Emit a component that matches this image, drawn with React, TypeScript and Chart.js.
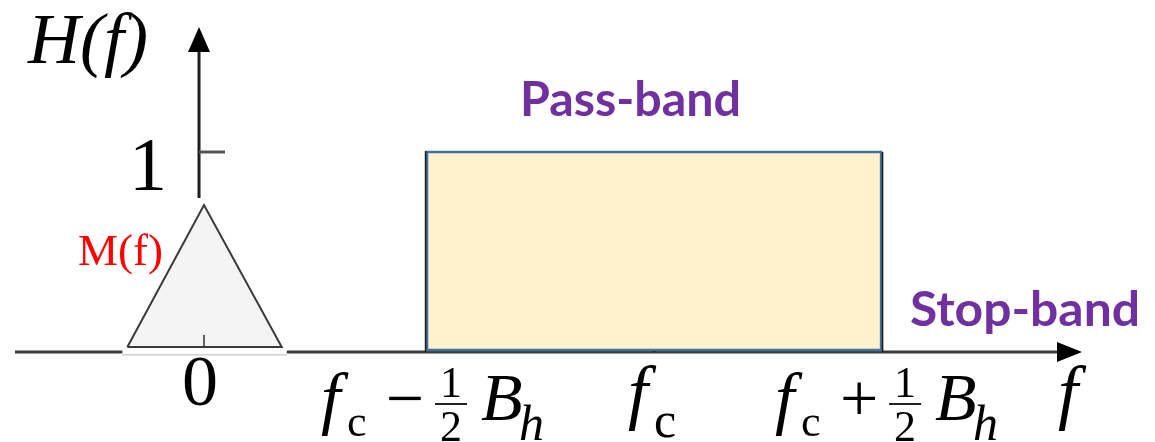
import { useEffect, useRef } from 'react';
import { Chart, registerables } from 'chart.js';

Chart.register(...registerables);

// ---- data ----
const passBandX = [2, 2, 6, 6, 2];
const passBandY = [0.01, 1, 1, 0.01, 0.01];
const messageX = [-0.64, 0.035, 0.72, -0.64];
const messageY = [0.025, 0.735, 0.025, 0.025];
const xTickValues = [0, 2, 4, 6];
const xTickLabels = ['0', 'f_c−½B_h', 'f_c', 'f_c+½B_h'];
const yTickValues = [1];
const yTickLabels = ['1'];
const xAxisTitle = 'f';
const yAxisTitle = 'H(f)';
const messageLabel = 'M(f)';
const bandLabels = ['Pass-band', 'Stop-band'];

const SERIF = '"Liberation Serif", "Times New Roman", serif';
const SANS = 'Lato, "Open Sans", sans-serif';

function txt(ctx: CanvasRenderingContext2D, s: string, x: number, y: number, font: string, align: CanvasTextAlign = 'left', color = '#000') {
  ctx.save();
  ctx.font = font;
  ctx.fillStyle = color;
  ctx.textAlign = align;
  ctx.textBaseline = 'alphabetic';
  ctx.fillText(s, x, y);
  ctx.restore();
}

function fitText(ctx: CanvasRenderingContext2D, s: string, left: number, baseline: number, width: number, font: string, color: string) {
  ctx.save();
  ctx.font = font;
  ctx.fillStyle = color;
  ctx.textAlign = 'left';
  ctx.textBaseline = 'alphabetic';
  const w = ctx.measureText(s).width;
  ctx.translate(left, baseline);
  ctx.scale(width / w, 1);
  ctx.fillText(s, 0, 0);
  ctx.restore();
}

function drawTickLabel(ctx: CanvasRenderingContext2D, label: string, x0: number, y0: number) {
  const m = label.match(/^f_c([−+])½B_h$/);
  if (m) {
    txt(ctx, 'f', x0 - 106, y0 + 69, `italic 70px ${SERIF}`);
    txt(ctx, 'c', x0 - 80, y0 + 84, `44px ${SERIF}`);
    txt(ctx, m[1], x0 - 22, y0 + 69, `68px ${SERIF}`, 'center');
    txt(ctx, '1', x0 + 24, y0 + 45, `44px ${SERIF}`, 'center');
    ctx.fillStyle = '#222';
    ctx.fillRect(x0 + 8, y0 + 51, 32, 2);
    txt(ctx, '2', x0 + 24, y0 + 89, `44px ${SERIF}`, 'center');
    txt(ctx, 'B', x0 + 54, y0 + 68, `italic 68px ${SERIF}`);
    txt(ctx, 'h', x0 + 92, y0 + 88, `italic 50px ${SERIF}`);
  } else if (label === 'f_c') {
    txt(ctx, 'f', x0 - 26, y0 + 64, `italic 72px ${SERIF}`);
    txt(ctx, 'c', x0, y0 + 85, `50px ${SERIF}`);
  } else {
    txt(ctx, label, x0, y0 + 53, `72px ${SERIF}`, 'center');
  }
}

const diagramPlugin = {
  id: 'diagram',
  beforeDatasetsDraw(chart: any) {
    const { ctx, chartArea, scales } = chart;
    const xs = scales.x, ys = scales.y;
    const x0 = xs.getPixelForValue(0);
    const yb = ys.getPixelForValue(0);
    ctx.save();
    // x axis
    ctx.strokeStyle = '#3c3c3c';
    ctx.lineWidth = 3;
    ctx.beginPath();
    ctx.moveTo(chartArea.left, yb);
    ctx.lineTo(chartArea.right - 20, yb);
    ctx.stroke();
    ctx.fillStyle = '#000';
    ctx.beginPath();
    ctx.moveTo(chartArea.right, yb);
    ctx.lineTo(chartArea.right - 25, yb - 10);
    ctx.lineTo(chartArea.right - 25, yb + 10);
    ctx.closePath();
    ctx.fill();
    // y axis
    const yx = x0 - 1;
    ctx.strokeStyle = '#1e1e1e';
    ctx.beginPath();
    ctx.moveTo(yx, yb);
    ctx.lineTo(yx, chartArea.top + 20);
    ctx.stroke();
    ctx.beginPath();
    ctx.moveTo(yx, chartArea.top);
    ctx.lineTo(yx - 11, chartArea.top + 25);
    ctx.lineTo(yx + 11, chartArea.top + 25);
    ctx.closePath();
    ctx.fill();
    // y ticks
    ctx.strokeStyle = '#555';
    yTickValues.forEach((v) => {
      const py = ys.getPixelForValue(v);
      ctx.beginPath();
      ctx.moveTo(yx, py);
      ctx.lineTo(yx + 26, py);
      ctx.stroke();
    });
    // small tick at band centre
    ctx.fillStyle = '#111';
    ctx.fillRect(xs.getPixelForValue(xTickValues[2]) - 1.5, yb - 4, 3, 4);
    // white backing of the message spectrum (covers the axes behind it)
    const mxL = xs.getPixelForValue(Math.min(...messageX));
    const mxR = xs.getPixelForValue(Math.max(...messageX));
    const myT = ys.getPixelForValue(Math.max(...messageY));
    ctx.fillStyle = '#fff';
    ctx.fillRect(mxL - 5, myT - 7, mxR - mxL + 10, yb + 2 - (myT - 7));
    // faint edge under the backing
    ctx.fillStyle = '#cfcfcf';
    ctx.fillRect(mxL - 5, yb + 2, mxR - mxL + 10, 1.5);
    ctx.restore();
  },
  afterDatasetsDraw(chart: any) {
    const { ctx, scales } = chart;
    const xs = scales.x, ys = scales.y;
    const yb = ys.getPixelForValue(0);
    const top = ys.getPixelForValue(Math.max(...passBandY));
    ctx.save();
    ctx.strokeStyle = '#1a1a1a';
    ctx.lineWidth = 1.5;
    const l = xs.getPixelForValue(Math.min(...passBandX)) - 1.5;
    const r = xs.getPixelForValue(Math.max(...passBandX)) + 1.5;
    ctx.beginPath();
    ctx.moveTo(l, top - 1);
    ctx.lineTo(l, yb);
    ctx.moveTo(r, top);
    ctx.lineTo(r, yb);
    ctx.stroke();
    // tick at centre of message spectrum
    const apex = xs.getPixelForValue(messageX[1]);
    const base = ys.getPixelForValue(messageY[0]);
    ctx.strokeStyle = '#333';
    ctx.lineWidth = 1.5;
    ctx.beginPath();
    ctx.moveTo(apex, base);
    ctx.lineTo(apex, base - 12);
    ctx.stroke();
    ctx.restore();
  },
  afterDraw(chart: any) {
    const { ctx, chartArea, scales } = chart;
    const xs = scales.x, ys = scales.y;
    const x0 = xs.getPixelForValue(0);
    const yb = ys.getPixelForValue(0);
    xTickValues.forEach((v, i) => drawTickLabel(ctx, xTickLabels[i], xs.getPixelForValue(v), yb));
    yTickValues.forEach((v, i) => txt(ctx, yTickLabels[i], x0 - 52, ys.getPixelForValue(v) + 38, `76px ${SERIF}`, 'center'));
    txt(ctx, xAxisTitle, chartArea.right - 24, yb + 64, `italic 72px ${SERIF}`);
    txt(ctx, yAxisTitle, x0 - 172, chartArea.top + 36, `italic 72px ${SERIF}`);
    txt(ctx, messageLabel, 78, ys.getPixelForValue(Math.max(...messageY)) + 60, `45px ${SERIF}`, 'left', '#ff0000');
    const top = ys.getPixelForValue(Math.max(...passBandY));
    const bandCentre = xs.getPixelForValue(xTickValues[2]);
    fitText(ctx, bandLabels[0], bandCentre - 134, top - 36, 221, `bold 47px ${SANS}`, '#7030a0');
    fitText(ctx, bandLabels[1], chartArea.right - 172, yb - 26, 230, `bold 47px ${SANS}`, '#7030a0');
  },
};

export default function App() {
  const ref = useRef<HTMLCanvasElement>(null);
  useEffect(() => {
    const canvas = ref.current;
    if (!canvas) return;
    const chart = new Chart(canvas, {
      type: 'scatter',
      data: {
        datasets: [
          {
            label: messageLabel,
            data: messageX.map((x, i) => ({ x, y: messageY[i] })),
            showLine: true,
            fill: 'shape',
            backgroundColor: '#f4f4f4',
            borderColor: '#3a3a3a',
            borderWidth: 2,
            pointRadius: 0,
            tension: 0,
          },
          {
            label: bandLabels[0],
            data: passBandX.map((x, i) => ({ x, y: passBandY[i] })),
            showLine: true,
            fill: 'shape',
            backgroundColor: '#fff2cc',
            borderColor: '#41719c',
            borderWidth: 2.5,
            pointRadius: 0,
            tension: 0,
          },
        ],
      },
      options: {
        animation: false,
        responsive: false,
        events: [],
        layout: { padding: { left: 15, right: 73, top: 27, bottom: 90 } },
        scales: {
          x: { type: 'linear', min: -1.63, max: 7.77, display: false },
          y: { type: 'linear', min: 0, max: 1.625, display: false },
        },
        plugins: { legend: { display: false }, tooltip: { enabled: false } },
      } as any,
      plugins: [diagramPlugin],
    });
    return () => chart.destroy();
  }, []);
  return (
    <div style={{ position: 'fixed', left: 0, top: 0, width: 1155, height: 442, background: '#fff' }}>
      <canvas ref={ref} width={1155} height={442} style={{ display: 'block' }} />
    </div>
  );
}
